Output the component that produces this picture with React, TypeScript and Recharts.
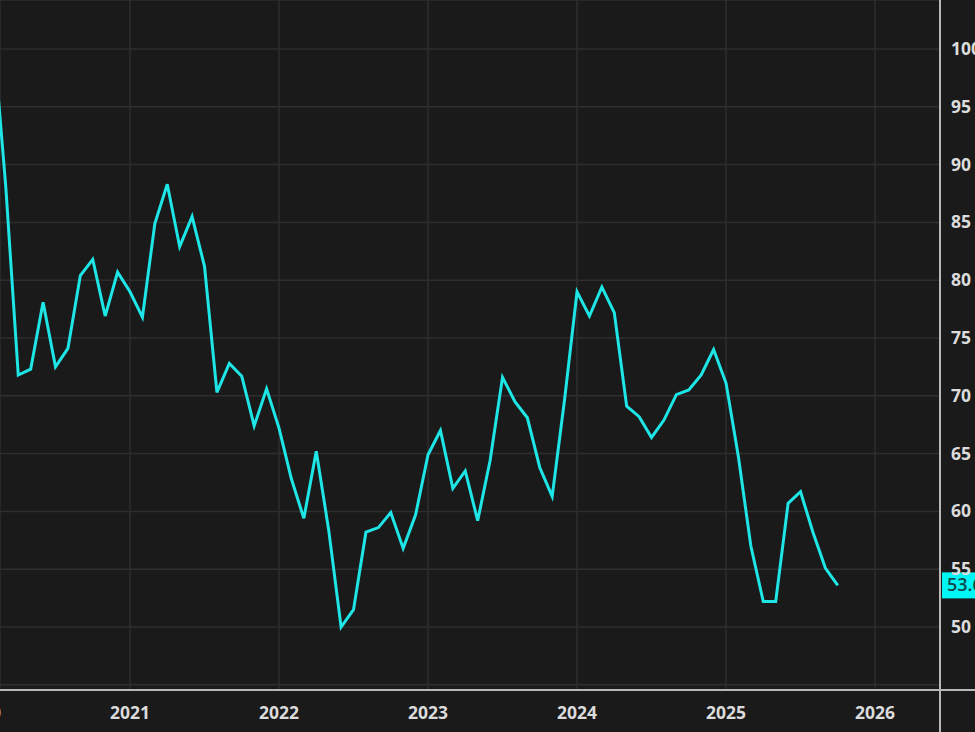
import React from 'react';
import { LineChart, Line, XAxis, YAxis, CartesianGrid, ReferenceLine } from 'recharts';

// monthly readings, Feb 2020 .. Oct 2025
const months = [
  '2020-02', '2020-03', '2020-04', '2020-05', '2020-06', '2020-07', '2020-08', '2020-09', '2020-10', '2020-11', '2020-12',
  '2021-01', '2021-02', '2021-03', '2021-04', '2021-05', '2021-06', '2021-07', '2021-08', '2021-09', '2021-10', '2021-11', '2021-12',
  '2022-01', '2022-02', '2022-03', '2022-04', '2022-05', '2022-06', '2022-07', '2022-08', '2022-09', '2022-10', '2022-11', '2022-12',
  '2023-01', '2023-02', '2023-03', '2023-04', '2023-05', '2023-06', '2023-07', '2023-08', '2023-09', '2023-10', '2023-11', '2023-12',
  '2024-01', '2024-02', '2024-03', '2024-04', '2024-05', '2024-06', '2024-07', '2024-08', '2024-09', '2024-10', '2024-11', '2024-12',
  '2025-01', '2025-02', '2025-03', '2025-04', '2025-05', '2025-06', '2025-07', '2025-08', '2025-09', '2025-10',
];

const values = [
  101.0, 88.0, 71.8, 72.3, 78.1, 72.5, 74.1, 80.4, 81.8, 76.9, 80.7,
  79.0, 76.8, 84.9, 88.3, 82.9, 85.5, 81.2, 70.3, 72.8, 71.7, 67.4, 70.6,
  67.2, 62.8, 59.4, 65.2, 58.4, 50.0, 51.5, 58.2, 58.6, 59.9, 56.8, 59.7,
  64.9, 67.0, 62.0, 63.5, 59.2, 64.4, 71.6, 69.5, 68.1, 63.8, 61.3, 69.7,
  79.0, 76.9, 79.4, 77.2, 69.1, 68.2, 66.4, 67.9, 70.1, 70.5, 71.8, 74.0,
  71.1, 64.7, 57.0, 52.2, 52.2, 60.7, 61.7, 58.2, 55.1, 53.6,
];

const yearTicks = [2020, 2021, 2022, 2023, 2024, 2025, 2026];
const valueTicks = [45, 50, 55, 60, 65, 70, 75, 80, 85, 90, 95, 100];

const data = months.map((m, i) => {
  const [y, mo] = m.split('-').map(Number);
  return { t: y + (mo - 1) / 12, v: values[i] };
});

const lastValue = values[values.length - 1];

const font = '"Open Sans", "Noto Sans", sans-serif';

const YearTick = (props: any) => {
  const { x, payload } = props;
  return (
    <text x={x} y={719} textAnchor='middle' fill='#dcdcdc' fontFamily={font} fontWeight={700} fontSize={17.5}>
      {payload.value}
    </text>
  );
};

const ValueTick = (props: any) => {
  const { y, payload } = props;
  if (payload.value === 45) return null;
  return (
    <text x={951} y={y} dy={6} textAnchor='start' fill='#dcdcdc' fontFamily={font} fontWeight={700} fontSize={17.5}>
      {payload.value}
    </text>
  );
};

const LastLabel = (props: any) => {
  const { viewBox } = props;
  const left = viewBox.x + viewBox.width + 2;
  return (
    <g>
      <rect x={left} y={viewBox.y - 13} width={40} height={26} fill='#00f5f5' />
      <text x={left + 5} y={viewBox.y} dy={6} fill='#124848' fontFamily={font} fontWeight={600} fontSize={18}>
        {lastValue.toFixed(1)}
      </text>
    </g>
  );
};

export default function App() {
  return (
    <div style={{ position: 'absolute', left: 0, top: 0, width: 975, height: 732, background: '#1a1a1a', overflow: 'hidden' }}>
      <LineChart width={975} height={732} data={data} margin={{ top: 0, right: 0, bottom: 0, left: 0 }}>
        <CartesianGrid stroke='#2e2e2e' strokeWidth={1.5} />
        <XAxis
          dataKey='t'
          type='number'
          domain={[2020.1275, 2026.436]}
          allowDataOverflow
          ticks={yearTicks}
          height={42}
          axisLine={false}
          tickLine={false}
          tick={<YearTick />}
          interval={0}
        />
        <YAxis
          orientation='right'
          type='number'
          domain={[44.55, 104.24]}
          allowDataOverflow
          ticks={valueTicks}
          width={35}
          axisLine={false}
          tickLine={false}
          tick={<ValueTick />}
          interval={0}
        />
        <Line
          type='linear'
          dataKey='v'
          stroke='#1ee6e6'
          strokeWidth={3}
          dot={false}
          activeDot={false}
          isAnimationActive={false}
        />
        <ReferenceLine y={lastValue} stroke='none' label={<LastLabel />} />
      </LineChart>
      <div style={{ position: 'absolute', left: 0, top: 689, width: 975, height: 2, background: '#b8b8b8' }} />
      <div style={{ position: 'absolute', left: 939, top: 0, width: 2, height: 732, background: '#b8b8b8' }} />
    </div>
  );
}
